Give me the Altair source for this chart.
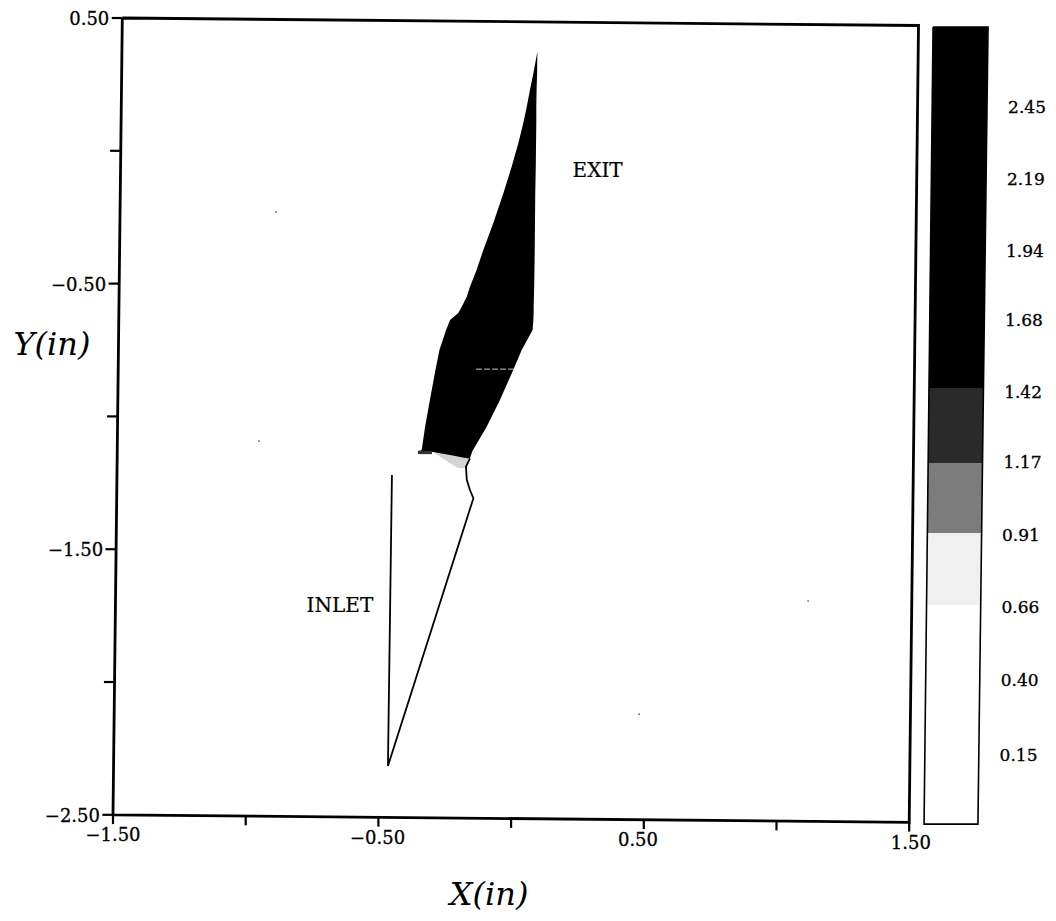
import altair as alt
import pandas as pd

# Shape, in inches: y row, left edge, right edge
shape_y = [.373, .292, .229, .166, .105, .028, -.060, -.160, -.272, -.374, -.449, -.512, -.549, -.587, -.611, -.637, -.675, -.750, -.825, -.938, -1.039, -1.127, -1.130, -1.134, -1.145, -1.158]
shape_l = [.099, .084, .071, .059, .046, .027, .002, -.029, -.067, -.105, -.130, -.155, -.167, -.186, -.199, -.230, -.245, -.270, -.285, -.306, -.324, -.337, -.351, -.294, -.230, -.162]
shape_r = [.099, .098, .096, .095, .095, .094, .093, .091, .090, .089, .088, .087, .086, .085, .085, .084, .081, .040, .008, -.042, -.092, -.144, -.146, -.147, -.151, -.155]

# Dithered transition under the black region
dither_y = [-1.134, -1.164, -1.194]
dither_l = [-.294, -.249, -.200]
dither_r = [-.211, -.159, -.166]
strip_y = [-1.130, -1.142]
strip_l = [-.351, -.351]
strip_r = [-.298, -.298]

# Inlet wall and lower wall
wall_x = [-.449, -.464, -.142, -.155, -.167, -.170, -.155]
wall_y = [-1.221, -2.316, -1.308, -1.277, -1.239, -1.189, -1.158]

streak_x = [-.132, .011]
streak_y = [-.822, -.822]
speck_x = [-.886, -.950, 1.119, .482]
speck_y = [-.230, -1.093, -1.695, -2.121]

# Frame and ticks (true axis units; the scan tilt is applied by the calculate transforms)
frame_x = [-1.5, 1.5, 1.5, -1.5, -1.5]
frame_y = [0.5, 0.5, -2.5, -2.5, 0.5]
x_ticks = [-1.5, -1.0, -0.5, 0.0, 0.5, 1.0, 1.5]
y_ticks = [-2.5, -2.0, -1.5, -1.0, -0.5, 0.0, 0.5]
x_label_pos = [-1.5, -0.503, 0.478, 1.506]
x_label_text = ["−1.50", "−0.50", "0.50", "1.50"]
y_labels = [-2.5, -1.5, -0.5, 0.5]
y_label_text = ["−2.50", "−1.50", "−0.50", "0.50"]

# Colour bar
band_names = ["a_black", "b_dark", "c_mid", "d_light", "e_white"]
band_colors = ["#000000", "#2a2a2a", "#7c7c7c", "#f0f0f0", "#ffffff"]
band_top = [.466, -.893, -1.175, -1.439, -1.710]
band_bot = [-.893, -1.175, -1.439, -1.710, -2.535]
band_l_top = [1.590, 1.574, 1.571, 1.568, 1.565]
band_l_bot = [1.574, 1.571, 1.568, 1.565, 1.556]
band_r_top = [1.797, 1.780, 1.776, 1.773, 1.769]
band_r_bot = [1.780, 1.776, 1.773, 1.769, 1.759]
cbar_text = ["2.45", "2.19", "1.94", "1.68", "1.42", "1.17", "0.91", "0.66", "0.40", "0.15"]
cbar_lx = [1.944, 1.940, 1.936, 1.932, 1.929, 1.927, 1.921, 1.919, 1.916, 1.912]
cbar_ly = [.161, -.110, -.381, -.641, -.912, -1.175, -1.450, -1.721, -1.996, -2.279]

SERIF = "DejaVu Serif"
X = alt.Scale(domain=[-1.8956, 2.023], nice=False, zero=False)
Y = alt.Scale(domain=[-2.8697, .5377], nice=False, zero=False)
xq = lambda f: alt.X(f, type="quantitative", scale=X, axis=None)
yq = lambda f: alt.Y(f, type="quantitative", scale=Y, axis=None)
x2 = lambda f: alt.X2(f)
y2 = lambda f: alt.Y2(f)
TX = "datum.{x} + 0.0117 * (datum.{y} + 2.5)"
TY = "datum.{y} - 0.0094 * (datum.{x} + 1.5)"


def area(ys, ls, rs, color):
    df = pd.DataFrame({"y": ys, "l": ls, "r": rs})
    return alt.Chart(df).mark_area(orient="horizontal", color=color, interpolate="linear").encode(
        y=yq("y"), x=alt.X("l", type="quantitative", scale=X, axis=None, stack=None), x2=x2("r"))


layers = [
    area(dither_y, dither_l, dither_r, "#d4d4d4"),
    area(shape_y, shape_l, shape_r, "#000000"),
    area(strip_y, strip_l, strip_r, "#333333"),
]

layers.append(alt.Chart(pd.DataFrame({"x": streak_x, "y": streak_y})).mark_line(
    color="#c8c8c8", strokeWidth=1, strokeDash=[6, 2]).encode(x=xq("x"), y=yq("y")))

wall = pd.DataFrame({"x": wall_x, "y": wall_y, "o": range(len(wall_x))})
layers.append(alt.Chart(wall).mark_line(color="#000000", strokeWidth=1.8).encode(
    x=xq("x"), y=yq("y"), order="o:Q"))

layers.append(alt.Chart(pd.DataFrame({"x": speck_x, "y": speck_y})).mark_point(
    filled=True, color="#555555", size=3, opacity=1).encode(x=xq("x"), y=yq("y")))

# Frame
frame = pd.DataFrame({"x0": frame_x, "y0": frame_y, "o": range(len(frame_x))})
layers.append(alt.Chart(frame).transform_calculate(
    px=TX.format(x="x0", y="y0"), py=TY.format(x="x0", y="y0")
).mark_line(color="#000000", strokeWidth=2.8).encode(x=xq("px"), y=yq("py"), order="o:Q"))

# Bottom ticks
xt = pd.DataFrame({"v": x_ticks})
layers.append(alt.Chart(xt).transform_calculate(
    b="-2.5 - 0.0094 * (datum.v + 1.5)",
    b2="-2.535 - 0.0094 * (datum.v + 1.5)"
).mark_rule(color="#000000", strokeWidth=2.2).encode(x=xq("v"), y=yq("b"), y2=y2("b2")))

# Left ticks
yt = pd.DataFrame({"v": y_ticks})
layers.append(alt.Chart(yt).transform_calculate(
    a="-1.5 + 0.0117 * (datum.v + 2.5)", a2="-1.54 + 0.0117 * (datum.v + 2.5)"
).mark_rule(color="#000000", strokeWidth=2.2).encode(x=xq("a"), x2=x2("a2"), y=yq("v")))

# Tick labels
xl = pd.DataFrame({"v": x_label_pos, "t": x_label_text})
layers.append(alt.Chart(xl).transform_calculate(
    py="-2.58 - 0.0094 * (datum.v + 1.5)"
).mark_text(font=SERIF, fontSize=18, align="center", baseline="middle", color="#000000",
            stroke="#000000", strokeWidth=0.3).encode(x=xq("v"), y=yq("py"), text="t:N"))

yl = pd.DataFrame({"v": y_labels, "t": y_label_text})
layers.append(alt.Chart(yl).transform_calculate(
    px="-1.549 + 0.0117 * (datum.v + 2.5)"
).mark_text(font=SERIF, fontSize=18, align="right", baseline="middle", color="#000000",
            stroke="#000000", strokeWidth=0.3, dy=2).encode(x=xq("px"), y=yq("v"), text="t:N"))

# Axis titles and annotations
notes = pd.DataFrame({"x": [.326, -.645], "y": [-.076, -1.714], "t": ["EXIT", "INLET"]})
layers.append(alt.Chart(notes).mark_text(font=SERIF, fontSize=20, color="#000000", baseline="middle",
                                         stroke="#000000", strokeWidth=0.2).encode(
    x=xq("x"), y=yq("y"), text="t:N"))
titles = pd.DataFrame({"x": [-.083, -1.730], "y": [-2.802, -.731], "t": ["X(in)", "Y(in)"]})
layers.append(alt.Chart(titles).mark_text(font=SERIF, fontSize=32, fontStyle="italic", color="#000000", baseline="middle").encode(
    x=xq("x"), y=yq("y"), text="t:N"))

# Colour bar bands
rows = []
for n, t, b, lt, lb, rt, rb in zip(band_names, band_top, band_bot, band_l_top, band_l_bot, band_r_top, band_r_bot):
    rows.append({"band": n, "y": t, "l": lt, "r": rt})
    rows.append({"band": n, "y": b, "l": lb, "r": rb})
layers.append(alt.Chart(pd.DataFrame(rows)).mark_area(orient="horizontal").encode(
    y=yq("y"), x=alt.X("l", type="quantitative", scale=X, axis=None, stack=None), x2=x2("r"),
    color=alt.Color("band:N", scale=alt.Scale(domain=band_names, range=band_colors), legend=None)))

# Colour bar outline
cb = pd.DataFrame({
    "x": [band_l_top[0], band_l_bot[-1], band_r_bot[-1], band_r_top[0], band_l_top[0]],
    "y": [band_top[0], band_bot[-1], band_bot[-1], band_top[0], band_top[0]],
    "o": range(5)})
layers.append(alt.Chart(cb).mark_line(color="#000000", strokeWidth=1.6).encode(
    x=xq("x"), y=yq("y"), order="o:Q"))

cl = pd.DataFrame({"x": cbar_lx, "y": cbar_ly, "t": cbar_text})
layers.append(alt.Chart(cl).mark_text(font=SERIF, fontSize=17, color="#000000", baseline="middle",
                                      stroke="#000000", strokeWidth=0.3).encode(
    x=xq("x"), y=yq("y"), text="t:N"))

chart = alt.layer(*layers).properties(
    width=1040, height=905, padding=0, background="white",
    autosize=alt.AutoSizeParams(type="none")
).configure_view(stroke=None)

chart.save("out.html", embed_options={"renderer": "svg", "actions": False})
